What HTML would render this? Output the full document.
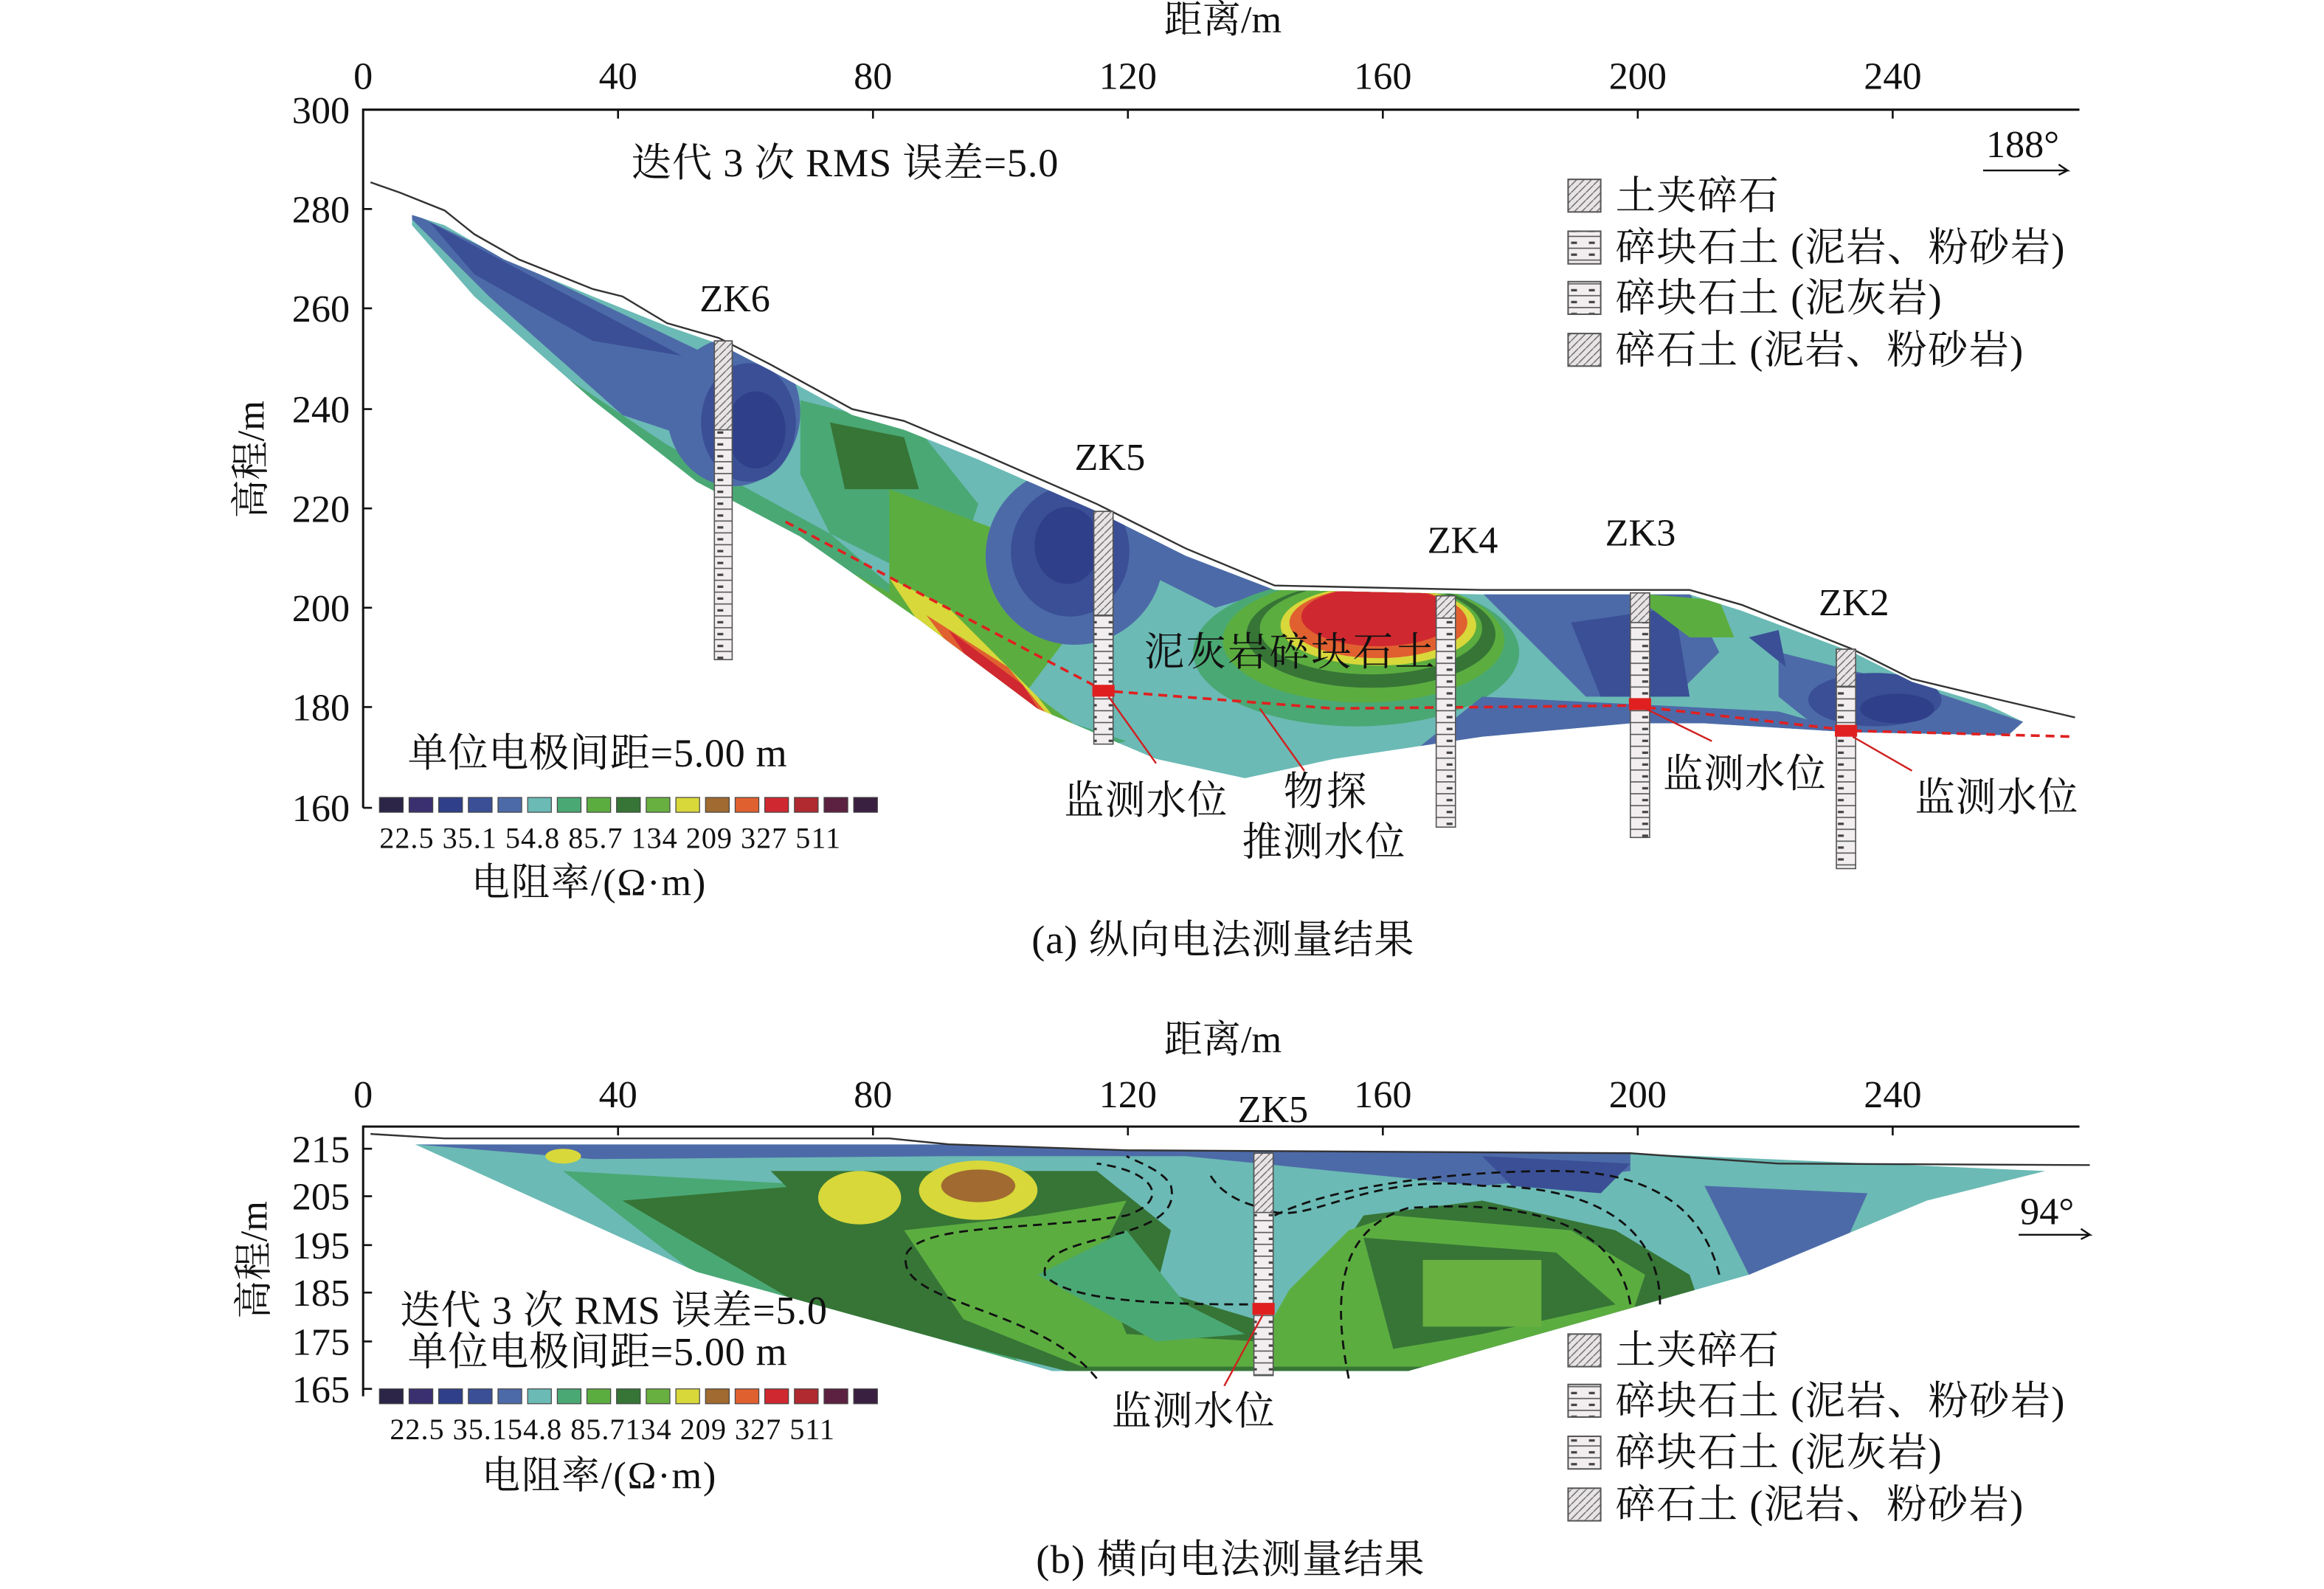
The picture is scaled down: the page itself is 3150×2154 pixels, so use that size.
<!DOCTYPE html>
<html><head><meta charset="utf-8"><style>html,body{margin:0;padding:0;background:#fff}svg{display:block}</style></head>
<body>
<svg width="3150" height="2154" viewBox="0 0 1568 1072" preserveAspectRatio="none" xmlns="http://www.w3.org/2000/svg" font-family="'Liberation Serif','Noto Serif CJK SC',serif">
<defs>
<pattern id="bh" width="12" height="8" patternUnits="userSpaceOnUse"><rect width="12" height="8" fill="#f2eef0"/><line x1="0" y1="7.5" x2="12" y2="7.5" stroke="#555" stroke-width="0.8"/><rect x="4" y="3" width="4" height="1.6" fill="#444"/></pattern>
<pattern id="hat" width="5" height="5" patternUnits="userSpaceOnUse"><rect width="5" height="5" fill="#e8e4e6"/><line x1="0" y1="5" x2="5" y2="0" stroke="#666" stroke-width="0.7"/></pattern>
<clipPath id="ca"><path d="M278,145 L300,152 L340,175 L400,200 L450,220 L485,232 L520,250 L575,280 L610,290 L660,310 L740,345 L800,375 L860,398 L1000,401 L1140,401 L1175,412 L1250,440 L1290,460 L1340,475 L1365,487 L1355,496 L1250,494 L1150,488 L1100,488 L1000,497 L900,512 L840,525 L780,512 L740,495 L700,478 L620,418 L540,362 L470,325 L400,270 L320,200 L278,152 Z"/></clipPath>
<clipPath id="cb"><path d="M280,772 L640,772 L760,776 L1100,778 L1380,790 L1300,810 L1180,860 L950,925 L710,925 L640,905 L470,858 Z"/></clipPath>
</defs>
<g font-size="26" fill="#111">
<text x="825" y="22" text-anchor="middle">距离/m</text>
<g text-anchor="middle"><text x="245" y="60">0</text><text x="417" y="60">40</text><text x="589" y="60">80</text><text x="761" y="60">120</text><text x="933" y="60">160</text><text x="1105" y="60">200</text><text x="1277" y="60">240</text></g>
<path d="M245,545 V74 H1403" fill="none" stroke="#111" stroke-width="1.5"/>
<g stroke="#111" stroke-width="1.3"><path d="M417,74v6M589,74v6M761,74v6M933,74v6M1105,74v6M1277,74v6M245,141h6M245,208h6M245,276h6M245,343h6M245,410h6M245,477h6M245,545h6"/></g>
<g text-anchor="end"><text x="236" y="83">300</text><text x="236" y="150">280</text><text x="236" y="217">260</text><text x="236" y="285">240</text><text x="236" y="352">220</text><text x="236" y="419">200</text><text x="236" y="486">180</text><text x="236" y="554">160</text></g>
<text transform="translate(178,310) rotate(-90)" text-anchor="middle">高程/m</text>
<g clip-path="url(#ca)">
<rect x="270" y="140" width="1100" height="400" fill="#6bbab5"/>
<path d="M270,140 L500,250 L480,300 L420,280 L330,200 Z" fill="#4d6aa8"/>
<path d="M290,150 L460,240 L400,230 L320,185Z" fill="#3a4f96"/>
<path d="M300,200 L450,300 L560,360 L700,480 L760,500 L720,510 L600,430 L480,340 L360,260 Z" fill="#4aa874"/>
<path d="M330,230 L470,330 L600,400 L700,470 L740,500 L650,460 L560,390 L420,310 Z" fill="#5cad40"/>
<path d="M360,260 L470,340 L560,390 L620,430 L560,400 L440,320 Z" fill="#367536"/>
<ellipse cx="495" cy="278" rx="45" ry="50" fill="#4d6aa8"/><ellipse cx="505" cy="285" rx="32" ry="40" fill="#3a4f96"/><ellipse cx="510" cy="290" rx="20" ry="26" fill="#2f3f8a"/>
<path d="M540,270 L620,290 L660,340 L640,400 L560,360 L540,320 Z" fill="#4aa874"/>
<path d="M560,285 L610,295 L620,330 L570,330 Z" fill="#367536"/>
<path d="M600,330 L680,360 L720,430 L690,470 L600,400 Z" fill="#5cad40"/>
<path d="M600,390 L640,410 L700,470 L720,495 L680,480 L620,420 Z" fill="#d8d83a"/>
<path d="M625,415 L680,450 L715,492 L690,482 L650,448 Z" fill="#e06030"/>
<path d="M640,425 L690,462 L705,485 L670,470 Z" fill="#d02830"/>
<ellipse cx="725" cy="375" rx="60" ry="60" fill="#4d6aa8"/><ellipse cx="722" cy="372" rx="40" ry="44" fill="#3a4f96"/><ellipse cx="720" cy="368" rx="22" ry="26" fill="#2f3f8a"/>
<path d="M760,330 L860,398 L820,410 L780,390Z" fill="#4d6aa8"/>
<ellipse cx="915" cy="440" rx="110" ry="50" fill="#4aa874"/>
<ellipse cx="920" cy="432" rx="95" ry="42" fill="#5cad40"/><ellipse cx="925" cy="428" rx="84" ry="36" fill="#367536"/>
<ellipse cx="925" cy="424" rx="75" ry="31" fill="#5cad40"/><ellipse cx="930" cy="422" rx="66" ry="27" fill="#d8d83a"/>
<ellipse cx="930" cy="420" rx="60" ry="24" fill="#e06030"/><ellipse cx="930" cy="416" rx="52" ry="20" fill="#d02830"/>
<path d="M1000,400 L1140,400 L1160,440 L1130,470 L1070,470 L1040,440 Z" fill="#4d6aa8"/>
<path d="M1060,420 L1130,410 L1140,470 L1080,470 Z" fill="#3a4f96"/>
<path d="M1100,400 L1160,405 L1170,430 L1140,430 Z" fill="#5cad40"/>
<path d="M1000,470 L1200,480 L1250,494 L1100,490 L950,510 Z" fill="#4d6aa8"/>
<path d="M1200,440 L1300,465 L1365,487 L1355,496 L1230,494 L1200,470 Z" fill="#4d6aa8"/>
<ellipse cx="1265" cy="472" rx="45" ry="18" fill="#3a4f96"/><ellipse cx="1280" cy="478" rx="25" ry="10" fill="#2f3f8a"/>
<path d="M1180,430 L1200,425 L1205,450 Z" fill="#3a4f96"/>
</g>
<path d="M250,123 L270,130 L300,142 L320,158 L350,175 L400,195 L420,200 L450,218 L485,228 L520,246 L575,276 L610,284 L660,305 L740,340 L800,370 L860,395 L1000,398 L1140,398 L1175,408 L1250,438 L1290,458 L1340,470 L1400,484" fill="none" stroke="#333" stroke-width="1.2"/>
<path d="M530,352 L620,400 L745,466 L900,478 L1100,476 L1250,493 L1400,497" fill="none" stroke="#e02020" stroke-width="1.8" stroke-dasharray="6,4"/>
<g stroke="#555" stroke-width="0.8">
<rect x="482" y="230" width="12" height="215" fill="url(#bh)"/><rect x="482" y="230" width="12" height="60" fill="url(#hat)"/>
<rect x="738" y="345" width="13" height="157" fill="url(#bh)"/><rect x="738" y="345" width="13" height="70" fill="url(#hat)"/>
<rect x="969" y="402" width="13" height="156" fill="url(#bh)"/><rect x="969" y="402" width="13" height="15" fill="url(#hat)"/>
<rect x="1100" y="400" width="13" height="165" fill="url(#bh)"/><rect x="1100" y="400" width="13" height="20" fill="url(#hat)"/>
<rect x="1239" y="438" width="13" height="148" fill="url(#bh)"/><rect x="1239" y="438" width="13" height="25" fill="url(#hat)"/>
</g>
<g fill="#e02020"><rect x="737" y="462" width="15" height="8"/><rect x="1099" y="471" width="15" height="8"/><rect x="1238" y="489" width="15" height="8"/></g>
<g stroke="#d02020" stroke-width="1.2"><path d="M748,470 L780,515M850,478 L880,520M1110,478 L1155,500M1250,497 L1290,520"/></g>
<g font-size="26"><text x="472" y="210">ZK6</text><text x="725" y="317">ZK5</text><text x="963" y="373">ZK4</text><text x="1083" y="368">ZK3</text><text x="1227" y="415">ZK2</text></g>
<g font-size="27">
<text x="426" y="119" textLength="288">迭代 3 次 RMS 误差=5.0</text>
<text x="772" y="449" textLength="196">泥灰岩碎块石土</text>
<text x="718" y="549" textLength="110">监测水位</text><text x="866" y="543" textLength="56">物探</text><text x="838" y="577" textLength="110">推测水位</text>
<text x="1122" y="531" textLength="110">监测水位</text><text x="1292" y="547" textLength="110">监测水位</text>
</g>
<text x="1340" y="106" font-size="26">188°</text><path d="M1338,115 H1395 l-6,-4 M1395,115 l-6,3" fill="none" stroke="#111" stroke-width="1.2"/>
<g font-size="27">
<rect x="1058" y="121" width="22" height="22" fill="url(#hat)" stroke="#555"/><text x="1090" y="141" textLength="110">土夹碎石</text>
<rect x="1058" y="156" width="22" height="22" fill="url(#bh)" stroke="#555"/><text x="1090" y="176" textLength="303">碎块石土 (泥岩、粉砂岩)</text>
<rect x="1058" y="190" width="22" height="22" fill="url(#bh)" stroke="#555"/><text x="1090" y="210" textLength="220">碎块石土 (泥灰岩)</text>
<rect x="1058" y="225" width="22" height="22" fill="url(#hat)" stroke="#555"/><text x="1090" y="245" textLength="275">碎石土 (泥岩、粉砂岩)</text>
</g>
<text x="275" y="517" font-size="27" textLength="256">单位电极间距=5.00 m</text>
<g stroke="#444" stroke-width="0.6">
<rect x="256" y="538" width="16" height="10" fill="#2c2548"/><rect x="276" y="538" width="16" height="10" fill="#3a3070"/><rect x="296" y="538" width="16" height="10" fill="#2f3f8a"/><rect x="316" y="538" width="16" height="10" fill="#3a4f96"/><rect x="336" y="538" width="16" height="10" fill="#4d6aa8"/><rect x="356" y="538" width="16" height="10" fill="#6bbab5"/><rect x="376" y="538" width="16" height="10" fill="#4aa874"/><rect x="396" y="538" width="16" height="10" fill="#5cad40"/><rect x="416" y="538" width="16" height="10" fill="#367536"/><rect x="436" y="538" width="16" height="10" fill="#68b040"/><rect x="456" y="538" width="16" height="10" fill="#d8d83a"/><rect x="476" y="538" width="16" height="10" fill="#a06a30"/><rect x="496" y="538" width="16" height="10" fill="#e06030"/><rect x="516" y="538" width="16" height="10" fill="#d02830"/><rect x="536" y="538" width="16" height="10" fill="#b02a30"/><rect x="556" y="538" width="16" height="10" fill="#5c2040"/><rect x="576" y="538" width="16" height="10" fill="#3a2040"/>
</g>
<text x="256" y="572" font-size="20" textLength="311">22.5 35.1 54.8 85.7 134 209  327  511</text>
<text x="318" y="604" font-size="26" textLength="158">电阻率/(Ω·m)</text>
<text x="825" y="643" font-size="27" text-anchor="middle" textLength="258">(a) 纵向电法测量结果</text>

<text x="825" y="710" text-anchor="middle">距离/m</text>
<g text-anchor="middle"><text x="245" y="747">0</text><text x="417" y="747">40</text><text x="589" y="747">80</text><text x="761" y="747">120</text><text x="933" y="747">160</text><text x="1105" y="747">200</text><text x="1277" y="747">240</text></g>
<path d="M245,942 V760 H1403" fill="none" stroke="#111" stroke-width="1.5"/>
<g stroke="#111" stroke-width="1.3"><path d="M417,760v6M589,760v6M761,760v6M933,760v6M1105,760v6M1277,760v6M245,775h6M245,807h6M245,840h6M245,872h6M245,905h6M245,937h6"/></g>
<g text-anchor="end"><text x="236" y="784">215</text><text x="236" y="816">205</text><text x="236" y="849">195</text><text x="236" y="881">185</text><text x="236" y="914">175</text><text x="236" y="946">165</text></g>
<text transform="translate(180,850) rotate(-90)" text-anchor="middle">高程/m</text>
<g clip-path="url(#cb)">
<rect x="270" y="765" width="1120" height="170" fill="#6bbab5"/>
<path d="M280,772 L640,772 L760,776 L1100,778 L1100,790 L1000,800 L900,790 L800,780 L640,780 L400,782Z" fill="#4d6aa8"/>
<path d="M380,790 L560,800 L700,930 L470,860 Z" fill="#4aa874"/>
<path d="M420,810 L540,800 L580,850 L700,920 L540,880 Z" fill="#367536"/>
<path d="M520,790 L740,790 L790,830 L780,870 L880,900 L900,850 L920,820 L1000,810 L1090,830 L1140,860 L1150,890 L960,925 L720,925 L640,905 L600,880 L560,830 Z" fill="#367536"/>
<path d="M610,830 L700,820 L760,810 L740,850 L760,900 L850,905 L870,870 L910,830 L940,820 L1060,830 L1110,860 L1100,890 L960,922 L730,922 L650,890 Z" fill="#5cad40"/>
<path d="M700,860 L760,830 L800,880 L840,900 L780,905Z" fill="#4aa874"/>
<path d="M920,835 L1050,845 L1090,880 L1000,900 L940,910 Z" fill="#367536"/>
<rect x="960" y="850" width="80" height="45" fill="#68b040"/>
<ellipse cx="580" cy="808" rx="28" ry="18" fill="#d8d83a"/>
<ellipse cx="660" cy="803" rx="40" ry="20" fill="#d8d83a"/><ellipse cx="660" cy="800" rx="25" ry="11" fill="#a06a30"/>
<ellipse cx="380" cy="780" rx="12" ry="5" fill="#d8d83a"/>
<path d="M1150,800 L1260,805 L1240,850 L1180,860 Z" fill="#4d6aa8"/>
<path d="M1000,780 L1100,785 L1080,805 L1020,800Z" fill="#3a4f96"/>
</g>
<g fill="none" stroke="#111" stroke-width="1.4" stroke-dasharray="6,4">
<path d="M740,930 C700,880 600,880 612,845 C625,825 700,830 760,820 C790,810 780,790 740,785"/>
<path d="M852,880 C800,880 720,880 705,860 C700,830 800,840 790,800 C785,790 770,785 760,780"/>
<path d="M910,930 C900,880 900,830 950,815 C1020,810 1090,820 1100,880"/>
<path d="M1120,880 C1120,830 1080,800 1000,800 C920,790 880,830 852,815 C830,810 820,800 815,790"/>
<path d="M1160,860 C1150,820 1120,790 1050,790 C980,790 900,800 860,820"/>
</g>
<path d="M250,765 L300,768 L420,768 L600,768 L640,772 L760,776 L1100,778 L1200,785 L1410,786" fill="none" stroke="#333" stroke-width="1.2"/>
<rect x="846" y="778" width="13" height="150" fill="url(#bh)" stroke="#555" stroke-width="0.8"/><rect x="846" y="778" width="13" height="40" fill="url(#hat)" stroke="#555" stroke-width="0.8"/>
<rect x="845" y="879" width="15" height="8" fill="#e02020"/>
<path d="M852,887 L826,935" stroke="#d02020" stroke-width="1.2"/>
<text x="835" y="757" font-size="26">ZK5</text>
<text x="750" y="961" font-size="27" textLength="110">监测水位</text>
<text x="1363" y="826" font-size="26">94°</text><path d="M1362,833 H1410 l-6,-4 M1410,833 l-6,3" fill="none" stroke="#111" stroke-width="1.2"/>
<text x="270" y="893" font-size="27" textLength="288">迭代 3 次 RMS 误差=5.0</text>
<text x="275" y="921" font-size="27" textLength="256">单位电极间距=5.00 m</text>
<g stroke="#444" stroke-width="0.6">
<rect x="256" y="937" width="16" height="10" fill="#2c2548"/><rect x="276" y="937" width="16" height="10" fill="#3a3070"/><rect x="296" y="937" width="16" height="10" fill="#2f3f8a"/><rect x="316" y="937" width="16" height="10" fill="#3a4f96"/><rect x="336" y="937" width="16" height="10" fill="#4d6aa8"/><rect x="356" y="937" width="16" height="10" fill="#6bbab5"/><rect x="376" y="937" width="16" height="10" fill="#4aa874"/><rect x="396" y="937" width="16" height="10" fill="#5cad40"/><rect x="416" y="937" width="16" height="10" fill="#367536"/><rect x="436" y="937" width="16" height="10" fill="#68b040"/><rect x="456" y="937" width="16" height="10" fill="#d8d83a"/><rect x="476" y="937" width="16" height="10" fill="#a06a30"/><rect x="496" y="937" width="16" height="10" fill="#e06030"/><rect x="516" y="937" width="16" height="10" fill="#d02830"/><rect x="536" y="937" width="16" height="10" fill="#b02a30"/><rect x="556" y="937" width="16" height="10" fill="#5c2040"/><rect x="576" y="937" width="16" height="10" fill="#3a2040"/>
</g>
<text x="263" y="971" font-size="20" textLength="300">22.5 35.154.8 85.7134 209 327  511</text>
<text x="325" y="1004" font-size="26" textLength="158">电阻率/(Ω·m)</text>
<g font-size="27">
<rect x="1058" y="900" width="22" height="22" fill="url(#hat)" stroke="#555"/><text x="1090" y="920" textLength="110">土夹碎石</text>
<rect x="1058" y="934" width="22" height="22" fill="url(#bh)" stroke="#555"/><text x="1090" y="954" textLength="303">碎块石土 (泥岩、粉砂岩)</text>
<rect x="1058" y="969" width="22" height="22" fill="url(#bh)" stroke="#555"/><text x="1090" y="989" textLength="220">碎块石土 (泥灰岩)</text>
<rect x="1058" y="1004" width="22" height="22" fill="url(#hat)" stroke="#555"/><text x="1090" y="1024" textLength="275">碎石土 (泥岩、粉砂岩)</text>
</g>
<text x="830" y="1061" font-size="27" text-anchor="middle" textLength="262">(b) 横向电法测量结果</text>
</g>
</svg>
</body></html>
